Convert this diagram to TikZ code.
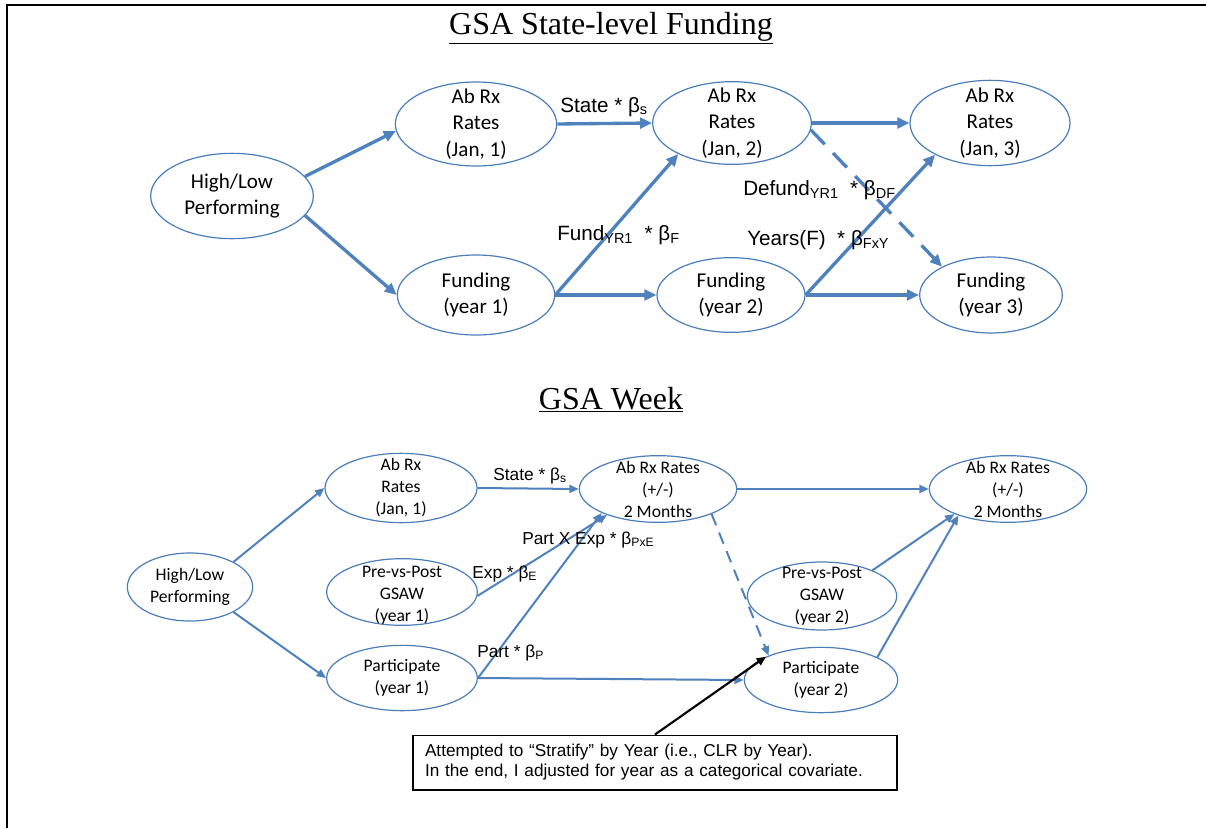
\documentclass[tikz,border=0pt]{standalone}
\usepackage{fontspec}
\setmainfont{Liberation Serif}
\newfontfamily\calib{Carlito}
\newfontfamily\arialf{Liberation Sans}
\usetikzlibrary{arrows.meta,shapes.geometric}
\definecolor{ebl}{RGB}{74,126,187}
\definecolor{abl}{RGB}{79,129,189}
\begin{document}
\begin{tikzpicture}[x=0.75pt,y=-0.75pt,
 ell/.style={ellipse,draw=ebl,line width=0.9pt,fill=white,inner sep=0pt},
 bigtxt/.style={font=\calib\fontsize{15.8}{20}\selectfont,align=center,inner sep=0pt},
 smtxt/.style={font=\calib\fontsize{13.2}{16.5}\selectfont,align=center,inner sep=0pt},
 thk/.style={draw=abl,line width=2.5pt,-{Triangle[length=9pt,width=8pt]}},
 thn/.style={draw=abl,line width=1.5pt,-{Triangle[length=7pt,width=6pt]}},
 lbl/.style={font=\arialf\fontsize{15.5}{18}\selectfont,inner sep=0pt,anchor=base west},
 slbl/.style={font=\arialf\fontsize{13}{16}\selectfont,inner sep=0pt,anchor=base west},
 ttl/.style={font=\fontsize{24}{28}\selectfont,inner sep=0pt,anchor=base},
]
\useasboundingbox (0,0) rectangle (1206,828);
\draw[line width=2pt] (7,828) -- (7,5) -- (1206,5);

% titles
\node[ttl] (title1) at (611,34) {\underline{GSA State-level Funding}};
\node[ttl] (title2) at (611,409) {\underline{GSA Week}};

% ---------- top diagram ----------
\node[ell,minimum width=122pt,minimum height=64pt] (hl) at (232,196) {};
\node[bigtxt] (hlt) at (hl) {High/Low\\Performing};
\node[ell,minimum width=121pt,minimum height=63pt] (ab1) at (476,124) {};
\node[bigtxt] (ab1t) at (ab1) {Ab Rx\\Rates\\(Jan, 1)};
\node[ell,minimum width=119pt,minimum height=62pt] (ab2) at (732,123) {};
\node[bigtxt] (ab2t) at (ab2) {Ab Rx\\Rates\\(Jan, 2)};
\node[ell,minimum width=120pt,minimum height=64pt] (ab3) at (990,123) {};
\node[bigtxt] (ab3t) at (ab3) {Ab Rx\\Rates\\(Jan, 3)};
\node[ell,minimum width=118pt,minimum height=60pt] (f1) at (476,295) {};
\node[bigtxt] (f1t) at (f1) {Funding\\(year 1)};
\node[ell,minimum width=111pt,minimum height=56pt] (f2) at (731,295) {};
\node[bigtxt] (f2t) at (f2) {Funding\\(year 2)};
\node[ell,minimum width=107pt,minimum height=57pt] (f3) at (991,295) {};
\node[bigtxt] (f3t) at (f3) {Funding\\(year 3)};

\draw[thk] (hl.15) -- (ab1.185);
\draw[thk] (hl.-15) -- (f1.180);
\draw[thk] (ab1.east) -- (ab2.west);
\draw[thk] (f1.east) -- (ab2.-150);
\draw[thk] (f1.east) -- (f2.west);
\draw[thk] (ab2.east) -- (ab3.west);
\draw[thk,dash pattern=on 15pt off 9pt] (ab2.-5) -- (f3.150);
\draw[thk] (f2.east) -- (ab3.-150);
\draw[thk] (f2.east) -- (f3.west);

\node[lbl] (l1) at (560,112) {State * β\textsubscript{s}};
\node[lbl] (l2) at (557,240) {Fund\textsubscript{YR1} \ * β\textsubscript{F}};
\node[lbl] (l3) at (743,195) {Defund\textsubscript{YR1} \ * β\textsubscript{DF}};
\node[lbl] (l4) at (747,245) {Years(F) \ * β\textsubscript{FxY}};

% ---------- bottom diagram ----------
\node[ell,minimum width=94pt,minimum height=51pt] (hlb) at (190,587) {};
\node[smtxt] (hlbt) at (hlb) {High/Low\\Performing};
\node[ell,minimum width=114pt,minimum height=52pt] (abb) at (401,488) {};
\node[smtxt] (abbt) at (abb) {Ab Rx\\Rates\\(Jan, 1)};
\node[ell,minimum width=113pt,minimum height=50pt] (pp1) at (402,592) {};
\node[smtxt] (pp1t) at (402,595) {Pre-vs-Post\\GSAW\\(year 1)};
\node[ell,minimum width=113pt,minimum height=49pt] (pa1) at (402,678) {};
\node[smtxt] (pa1t) at (pa1) {Participate\\(year 1)};
\node[ell,minimum width=118pt,minimum height=50pt] (mid) at (658,489) {};
\node[smtxt] (midt) at (mid) {Ab Rx Rates\\(+/-)\\2 Months};
\node[ell,minimum width=118pt,minimum height=50pt] (rgt) at (1008,489) {};
\node[smtxt] (rgtt) at (rgt) {Ab Rx Rates\\(+/-)\\2 Months};
\node[ell,minimum width=112pt,minimum height=51pt] (pp2) at (822,596) {};
\node[smtxt] (pp2t) at (822,596) {Pre-vs-Post\\GSAW\\(year 2)};
\node[ell,minimum width=115pt,minimum height=49pt] (pa2) at (821,680) {};
\node[smtxt] (pa2t) at (pa2) {Participate\\(year 2)};

\draw[thn] (hlb.30) -- (abb.west);
\draw[thn] (hlb.-30) -- (pa1.west);
\draw[thn] (abb.east) -- (mid.west);
\draw[thn] (pp1.-3) -- (mid.-153);
\draw[thn] (pa1.east) -- (mid.-157);
\draw[thn] (pa1.east) -- (pa2.west);
\draw[thn] (mid.east) -- (rgt.west);
\draw[thn,dash pattern=on 9pt off 6pt] (mid.-25) -- (pa2.155);
\draw[thn] (pp2.27) -- (rgt.-155);
\draw[thn] (pa2.22) -- (rgt.-152);

\node[slbl] (b1) at (493,480) {State * β\textsubscript{s}};
\node[slbl] (b2) at (522,544) {Part X Exp * β\textsubscript{PxE}};
\node[slbl] (b3) at (472,578) {Exp * β\textsubscript{E}};
\node[slbl] (b4) at (477,657) {Part * β\textsubscript{P}};

% callout
\node[draw=black,line width=1pt,fill=white,minimum width=363pt,minimum height=41pt,
      inner xsep=9pt,text width=345pt,align=left,
      font=\arialf\fontsize{12.9}{15}\selectfont] (call) at (655,762.5)
 {Attempted to “Stratify” by Year (i.e., CLR by Year).\\In the end, I adjusted for year as a categorical covariate.};
\draw[black,line width=1.6pt,-{Triangle[length=7pt,width=6pt]}] (call.north) -- (pa2.157);
\end{tikzpicture}
\end{document}
